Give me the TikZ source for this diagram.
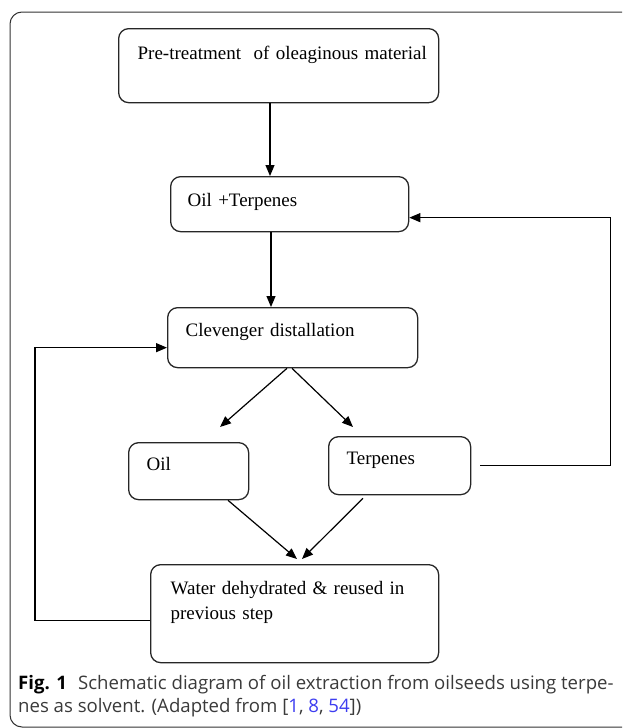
\documentclass[tikz,border=0pt]{standalone}
\usepackage{fontspec}
\setmainfont{Liberation Serif}
\newfontfamily\capfont{Open Sans}
\usetikzlibrary{arrows.meta}
\definecolor{capgray}{HTML}{3A3A3A}
\definecolor{citeblue}{HTML}{3D3DF0}
\newcommand{\refnum}[1]{\textcolor{citeblue}{#1}}

\begin{document}
\begin{tikzpicture}[x=1pt,y=-1pt,
  stage/.style={draw=black!85, line width=1.3pt, rounded corners=10pt,
    anchor=north west, align=left, inner ysep=0pt,
    font=\fontsize{19}{24.5}\selectfont},
  flow/.style={draw, line width=1.2pt, -{Triangle[length=11pt,width=9pt]}},
  frame/.style={draw=black!80, line width=1pt, rounded corners=12pt}]

\useasboundingbox (0,0) rectangle (622,728);
\draw[frame] (622,12) -- (10,12) -- (10,727) -- (622,727);

% process steps
\node[stage, inner xsep=19pt, text width=282pt, text height=31pt, text depth=43pt] (pre) at (118,28) {\mbox{Pre-treatment~~of oleaginous material}};
\node[stage, inner xsep=17pt, text width=204pt, text height=30pt, text depth=25pt] (mix) at (170,176) {\mbox{Oil +Terpenes}};
\node[stage, inner xsep=18pt, text width=214pt, text height=29pt, text depth=31pt] (clev) at (167,307) {\mbox{Clevenger distallation}};
\node[stage, inner xsep=18pt, text width=84pt, text height=28pt, text depth=29pt] (oil) at (128,442) {Oil};
\node[stage, inner xsep=18pt, text width=106pt, text height=28pt, text depth=30pt] (terp) at (328,436) {Terpenes};
\node[stage, inner xsep=20pt, text width=248pt, text height=30pt, text depth=68pt] (water) at (150,564) {\mbox{Water dehydrated \& reused in}\\previous step};

% arrows
\draw[flow] ([xshift=152]pre.south west) coordinate (p1) -- (p1 |- mix.north);
\draw[flow] ([xshift=101]mix.south west) coordinate (p2) -- (p2 |- clev.north);
\draw[flow] ([xshift=120]clev.south west) -- ([shift={(92,-15)}]oil.north west);
\draw[flow] ([xshift=125]clev.south west) -- ([shift={(25,-9)}]terp.north west);
\draw[flow] ([xshift=100]oil.south west) -- ([shift={(147,-5)}]water.north west);
\draw[flow] ([shift={(35,3)}]terp.south west) -- ([shift={(152,-5)}]water.north west);

% recycle loops
\draw[flow] ([xshift=9]terp.east) -- ++(130,0) |- ([yshift=-13.5]mix.east);
\draw[flow] ([yshift=-7]water.west) -- ++(-115,0) |- ([yshift=-10]clev.west);

\node[anchor=base west, inner sep=0pt, align=left, text=capgray,
  font=\capfont\fontsize{18.6}{22.5}\selectfont] (caption) at (18,712)
  {\textcolor{black}{\textbf{Fig. 1}}\hspace{0.6em}Schematic diagram of oil extraction from oilseeds using terpe-\\
   nes as solvent. (Adapted from [\refnum{1}, \refnum{8}, \refnum{54}])};
\end{tikzpicture}
\end{document}
